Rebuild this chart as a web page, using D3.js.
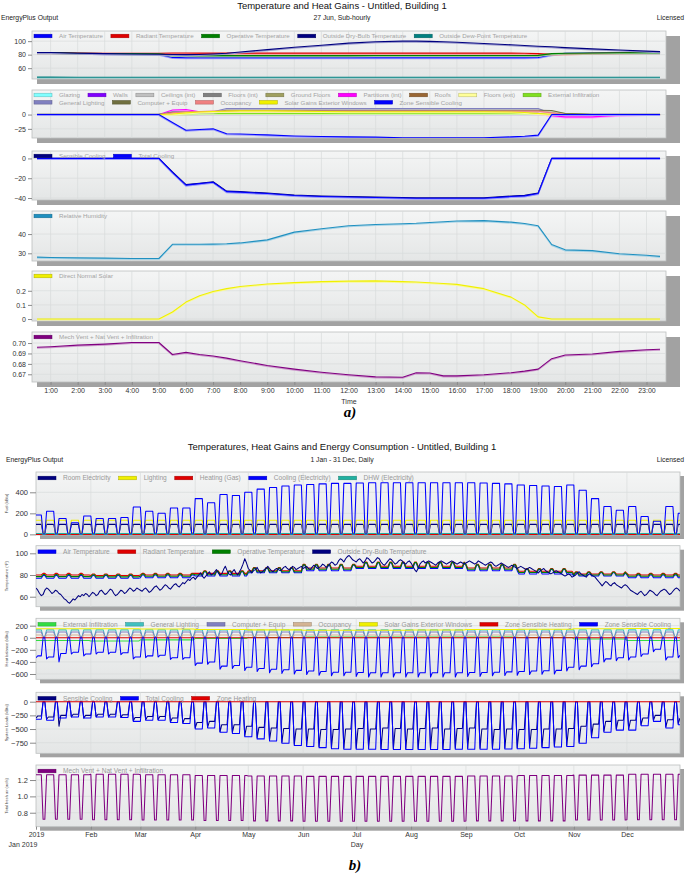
<!DOCTYPE html>
<html>
<head>
<meta charset="utf-8">
<title>EnergyPlus Output</title>
<script src="https://cdn.jsdelivr.net/npm/d3@7/dist/d3.min.js"></script>
<style>
  body { margin: 0; background: #fff; }
  svg text { font-family: "Liberation Sans", Arial, sans-serif; }
</style>
</head>
<body>
<div id="chart"></div>
<script>
// ---------- (a) 27 Jun, sub-hourly ----------
var hoursA = [0.5,1,2,3,4,5,5.5,6, 6.5,7,7.5,8,9,10,11,12, 13,14,14.5,15,15.5,16,17,18, 18.5,19,19.5,20,21,22,23,23.5];
var hourTicks = [1,2,3,4,5,6,7,8,9,10,11,12,13,14,15,16,17,18,19,20,21,22,23];

// temperatures (F)
var airTempA   = [83,83,82,81.5,81,80.5,76,75.5, 75.5,75.5,75.5,75.5,75.5,75.5,75.5,75.5, 75.5,75.5,75.5,75.5,75.5,75.5,75.5,75.5, 75.5,75.8,80,82,82.5,82.8,83,83];
var radiantA   = [83,83,82.5,82,82,82,82.5,82.5, 82.3,82.3,82.3,82.3,82.3,82.3,82.3,82.3, 82.3,82.3,82.3,82.3,82.3,82.3,82.3,82.3, 82.2,81.5,80.5,81,82,82.5,83,83];
var operativeA = [83,83,82,81.8,81.5,81.3,79,78.7, 78.6,78.6,78.6,78.6,78.6,78.6,78.6,78.6, 78.7,78.7,78.7,78.7,78.7,78.7,78.7,78.7, 78.8,79,81.5,82,82.5,82.8,83,83];
var outDryA    = [83.3,83.2,82,81.5,81,80.5,80.2,80, 80.3,81,82,84,87.5,91,94,97, 99,100,100,99.6,99.2,98.4,96.6,94.6, 93.6,92.4,91.6,90.4,88.6,86.9,85.3,84.5];
var outDewA    = [46.8,46.8,46.7,46.7,46.6,46.6,46.6,46.6, 46.6,46.6,46.6,46.6,46.6,46.6,46.6,46.6, 46.6,46.6,46.6,46.6,46.6,46.6,46.6,46.6, 46.6,46.6,46.6,46.6,46.6,46.6,46.6,46.6];

// heat gains (kBtu/h)
var glazingA    = [0,0,0,0,0,0,0.5,1, 1.5,2,2,2.5,2.5,2.5,2.5,2.5, 2.5,2.5,2.5,2.5,2.5,2.5,2.5,2.5, 2.5,2,1,0.3,0,0,0,0];
var wallsA      = [0.5,0.5,0.5,0.5,0.5,0.5,1,1.5, 1.5,1.5,1.5,1.5,1.5,1.5,1.5,1.5, 1.5,1.5,1.5,1.5,1.5,1.5,1.5,1.5, 1.5,1.5,0.5,0.5,0.5,0.5,0.5,0.5];
var ceilingsA   = [0,0,0,0,0,0,1,2, 2,2,2,2,2,2,2,2, 2,2,2,2,2,2,2,2, 2,2,1,0,0,0,0,0];
var floorsIntA  = [0,0,0,0,0,0,1,1.5, 1.5,1.5,1.5,1.5,1.5,1.5,1.5,1.5, 1.5,1.5,1.5,1.5,1.5,1.5,1.5,1.5, 1.5,1.5,0.5,0,0,0,0,0];
var groundA     = [0,0,0,0,0,0,2,3, 4,5,6,6,6,6,6,6, 6,6,6,6,6,6,6,6, 6,6,5,2,0,0,0,0];
var partitionsA = [0,0,0,0,0,0,8,9, 5,4,3,3,3,3,3,3, 3,3,3,3,3,3,3,3, 3,3,-2,-4,-4,-1,0,0];
var roofsA      = [0,0,0,0,0,0,1,1, 1.5,2,2.5,3,3.5,4,4,4, 4,4,4,4,4,4,4,4, 4,3.5,1,0.5,0,0,0,0];
var floorsExtA  = [0,0,0,0,0,0,1,2, 2.5,3,3,3,3,3,3,3, 3,3,3,3,3,3,3,3, 2.5,2,1,0,0,0,0,0];
var infilA      = [0.5,0.5,0.5,0.5,0.5,0.5,1,1.5, 2,2,2,2,2,2,2,2, 2,2,2,2,2,2,2,2, 2,2,1,0.5,0.5,0.5,0.5,0.5];
var lightingA   = [0,0,0,0,0,0,5,5, 5,5,10.5,10.5,10.5,10.5,10.5,10.5, 10.5,10.5,10.5,10.5,10.5,10.5,10.5,10.5, 10.5,10.5,2,0,0,0,0,0];
var equipA      = [0,0,0,0,0,0,4,4, 4,4,7.5,7.5,7.5,7.5,7.5,7.5, 7.5,7.5,7.5,7.5,7.5,7.5,7.5,7.5, 7.5,7.5,7,2,0,0,0,0];
var occupA      = [0,0,0,0,0,0,3,5, 5.5,6,6,6,6,6,6,6, 6,6,6,6,6,6,6,6, 6,6,3,0,0,0,0,0];
var solarA      = [0,0,0,0,0,0,1,3, 4.5,5.5,6,6.5,6.5,6,5.5,5, 5,5,5,5,5,5,5,4.5, 3.5,2,0.5,0,0,0,0,0];
var zoneCoolA   = [0,0,0,0,0,0,-14,-27.5, -26,-25,-33.5,-34,-35.5,-37.5,-38.5,-39, -39.5,-40.5,-40.5,-40.5,-40.5,-40.5,-40.5,-39, -38,-36,0,0,0,0,0,0];

// cooling, humidity, solar, ventilation
var sensCoolA  = [0,0,0,0,0,0,-13.5,-26.5, -25,-23.5,-33,-33.5,-35,-37,-38,-38.5, -39,-39.5,-39.8,-39.8,-39.8,-39.8,-39.8,-38, -37.3,-35,0,0,0,0,0,0];
var totalCoolA = [0,0,0,0,0,0,-14,-27, -25.5,-24,-33.5,-34,-35.5,-37.5,-38.5,-39, -39.5,-40,-40.2,-40.3,-40.3,-40.3,-40.3,-38.5, -37.8,-35.5,0,0,0,0,0,0];
var rhA   = [28,27.8,27.6,27.5,27.3,27.3,34.7,34.7, 34.7,34.8,35,35.4,37,41,42.8,44.3, 45,45.4,45.6,46,46.4,46.8,47,46.2, 45.5,44.3,34.6,31.8,31.4,29.8,29,28.4];
var dnsA  = [0,0,0,0,0,0,0.05,0.12, 0.165,0.195,0.215,0.23,0.248,0.258,0.265,0.268, 0.27,0.265,0.262,0.257,0.252,0.245,0.215,0.155, 0.1,0.015,0,0,0,0,0,0];
var ventA = [0.696,0.6965,0.698,0.699,0.7005,0.7005,0.689,0.691, 0.689,0.6875,0.6855,0.683,0.6785,0.675,0.672,0.6695, 0.6675,0.6672,0.6715,0.6712,0.6685,0.6685,0.6695,0.6715, 0.673,0.675,0.685,0.6885,0.6895,0.692,0.6935,0.694];

// ---------- (b) 1 Jan - 31 Dec, daily ----------
var monthTicks = ["2019","Feb","Mar","Apr","May","Jun","Jul","Aug","Sep","Oct","Nov","Dec"];

// weekday level for each Monday-based week (weekends are off)
var coolElecWk = [185,220,150,110,175,150,150,160,260,220, 200,250,250,340,300,380,370,400,430,445, 460,470,475,480,485,485,488,490,490,490, 490,490,490,490,490,490,488,485,480,470, 465,460,455,470,420,340,265,230,265,170, 125,265,200];
var zoneCoolWk = [-300,-320,-260,-240,-270,-240,-240,-250,-320,-300, -290,-330,-330,-420,-400,-470,-460,-490,-510,-520, -530,-540,-550,-560,-570,-570,-575,-580,-580,-580, -580,-580,-580,-580,-580,-575,-575,-570,-565,-560, -550,-545,-540,-490,-470,-430,-350,-330,-320,-270, -190,-320,-290];
var zoneCoolMon = [-330,-350,-400,-270,-300,-270,-270,-280,-350,-330, -320,-360,-360,-460,-440,-520,-510,-540,-560,-580, -590,-600,-610,-620,-630,-630,-640,-650,-650,-650, -650,-650,-650,-650,-650,-640,-640,-630,-625,-620, -610,-605,-600,-550,-530,-480,-400,-380,-370,-310, -230,-370,-330];
var totalCoolWk = [-320,-340,-300,-280,-300,-280,-280,-290,-360,-340, -340,-380,-400,-500,-480,-560,-580,-640,-680,-720, -760,-800,-820,-840,-860,-870,-870,-870,-875,-875, -875,-875,-875,-875,-870,-870,-870,-870,-865,-860, -850,-840,-830,-820,-760,-660,-560,-520,-520,-440, -360,-480,-420];
var sensCoolWk = [-260,-280,-250,-230,-250,-230,-230,-240,-290,-270, -270,-300,-310,-380,-360,-420,-420,-450,-470,-480, -490,-500,-500,-510,-510,-500,-490,-500,-480,-490, -500,-490,-480,-500,-490,-480,-500,-510,-500,-510, -510,-500,-500,-490,-450,-410,-360,-340,-340,-300, -250,-330,-300];
var sensCoolMon = [-300,-320,-450,-280,-300,-280,-280,-290,-350,-330, -330,-370,-390,-480,-470,-550,-560,-620,-660,-700, -740,-780,-800,-820,-840,-850,-850,-850,-860,-860, -860,-860,-860,-860,-850,-850,-850,-850,-845,-840, -830,-820,-810,-800,-740,-640,-540,-500,-500,-420, -340,-460,-400];

// [weekday, weekend]
var roomElecB = [95, 12];
var lightingB = [135, 15];
var heatingB  = [0, 0];
var dhwB      = [8, 1];
var genLightB = [130, 20];
var equipB    = [95, 15];
var occupB    = [45, 0];
var zoneHeatB = [0, 0];

// monthly levels
var airWkday = [77,77,77.5,79,82,84,86,86,84,81,79,77.5];
var airWkend = [79.5,79.5,80,83,86,89,91,91,89,85,82,80];
var radWkday = [80,79.5,80,81.5,84,86.5,88,88,86.5,83.5,81,80];
var radWkend = [81.5,81,81.5,84,87,90,92,92,90,86,83,81.5];
var opWkday  = [78.5,78.3,78.8,80.3,83,85.3,87,87,85.3,82.3,80,78.8];
var opWkend  = [80.5,80.3,80.8,83.5,86.5,89.5,91.5,91.5,89.5,85.5,82.5,80.8];
var infilB   = [-45,-55,-35,-10,5,10,12,12,10,5,-20,-45];
var solarB   = [150,150,145,138,130,125,125,128,135,142,148,152];
var ventWkday = [1.265,1.27,1.265,1.255,1.25,1.245,1.245,1.245,1.25,1.255,1.26,1.27];
var ventWkend = [0.72,0.715,0.71,0.705,0.70,0.695,0.695,0.695,0.70,0.70,0.71,0.715];

// outside dry-bulb, daily (F)
var outDryMonths = [
  [68,66,63,61,62,66,68,67,65,63, 64,66,65,63,62,60,58,57,55,54, 56,58,57,59,61,60,62,61,63,62, 60],
  [62,64,63,61,62,65,66,64,62,63, 65,67,66,63,61,62,64,66,65,63, 64,66,68,67,65,66,68,67],
  [66,65,67,68,66,64,65,67,69,70, 68,66,67,69,71,70,68,67,69,71, 72,70,69,71,73,72,74,76,75,77, 78],
  [76,78,80,82,79,77,79,81,83,80, 81,83,85,82,80,81,85,88,84,81, 80,83,85,82,80,83,86,90,95,91],
  [86,84,82,84,85,87,84,82,83,85, 86,88,86,84,83,85,86,85,84,85, 87,88,86,85,86,88,87,85,86,87, 88],
  [86,87,88,86,85,87,89,88,86,87, 88,90,89,87,88,90,92,91,89,90, 93,95,94,92,95,97,98,96,94,93],
  [92,94,95,93,91,93,96,95,93,91, 92,94,96,95,92,90,89,91,93,95, 94,92,90,91,93,94,93,91,90,92, 93],
  [91,88,85,83,86,90,92,93,91,92, 93,92,91,90,89,91,92,93,92,91, 90,91,92,93,92,91,90,91,92,91, 90],
  [91,92,93,92,91,90,91,93,92,91, 90,89,90,91,92,91,89,88,89,90, 91,90,89,88,87,88,89,88,87,86],
  [87,88,87,86,85,86,87,86,85,84, 83,82,84,85,86,84,83,82,81,82, 83,84,83,82,81,80,79,80,81,80, 78],
  [79,80,82,83,81,80,79,78,80,81, 80,79,78,76,74,72,70,72,74,73, 71,70,72,73,71,70,69,68,70,71],
  [70,68,66,65,64,63,62,64,65,63, 61,62,64,66,65,64,62,61,63,65, 66,67,66,64,62,63,65,67,68,67, 65]
];

// ---------- build daily series ----------
var days = d3.timeDay.range(new Date(2019, 0, 1), new Date(2020, 0, 1));
var work = days.map(function(d) { return d.getDay() >= 1 && d.getDay() <= 5; });
var firstWork = work.map(function(w, i) { return w && (i === 0 || !work[i - 1]); });
var weekIdx = days.map(function(d) { return d3.timeMonday.count(new Date(2018, 11, 31), d); });
var monthIdx = days.map(function(d) { return d.getMonth(); });
function byWeek(arr, mon) {
  return days.map(function(d, i) {
    if (!work[i]) return 0;
    return (mon && firstWork[i]) ? mon[weekIdx[i]] : arr[weekIdx[i]];
  });
}
function byMonth(a, b) { return days.map(function(d, i) { return (work[i] ? a : b)[monthIdx[i]]; }); }
function byMonthAll(a) { return days.map(function(d, i) { return a[monthIdx[i]]; }); }
function byDay(pair) { return days.map(function(d, i) { return work[i] ? pair[0] : pair[1]; }); }
var outDryB = [].concat.apply([], outDryMonths);

// ---------- svg ----------
var W = 685, H = 875;
var svg = d3.select("#chart").append("svg").attr("width", W).attr("height", H);
var defs = svg.append("defs");
var grad = defs.append("linearGradient").attr("id", "panelBg")
  .attr("x1", 0).attr("y1", 0).attr("x2", 0).attr("y2", 1);
grad.append("stop").attr("offset", "0%").attr("stop-color", "#f4f5f5");
grad.append("stop").attr("offset", "100%").attr("stop-color", "#e4e6e6");
var clipCount = 0;

function drawPanel(p) {
  var w = p.right - p.left, h = p.bottom - p.top;
  var y = d3.scaleLinear().domain(p.yDomain).range([p.bottom, p.top]);
  var g = svg.append("g");
  g.append("rect").attr("x", p.left + p.sh).attr("y", p.top + p.sh)
    .attr("width", w + p.shR).attr("height", h).attr("fill", "#a2a2a2");
  g.append("rect").attr("x", p.left).attr("y", p.top).attr("width", w).attr("height", h)
    .attr("fill", "url(#panelBg)").attr("stroke", "#bcbfbf").attr("stroke-width", 0.8);
  g.selectAll(".gx").data(p.xGrid).enter().append("line")
    .attr("x1", function(d) { return p.x(d); }).attr("x2", function(d) { return p.x(d); })
    .attr("y1", p.top).attr("y2", p.bottom)
    .attr("stroke", "#d8dbdb").attr("stroke-width", 0.7);
  g.selectAll(".gy").data(p.yTicks).enter().append("line")
    .attr("x1", p.left).attr("x2", p.right)
    .attr("y1", function(d) { return y(d); }).attr("y2", function(d) { return y(d); })
    .attr("stroke", "#d8dbdb").attr("stroke-width", 0.7);

  var ax = g.append("g").attr("transform", "translate(" + p.left + ",0)")
    .call(d3.axisLeft(y).tickValues(p.yTicks).tickFormat(p.fmt).tickSize(p.tickLen).tickPadding(2));
  ax.select(".domain").remove();
  ax.attr("font-size", p.tickFont).attr("font-family", null);
  ax.selectAll("line").attr("stroke", "#8a8a8a");
  ax.selectAll("text").attr("fill", "#333");

  var id = "clip" + (clipCount++);
  defs.append("clipPath").attr("id", id).append("rect")
    .attr("x", p.left).attr("y", p.top).attr("width", w).attr("height", h);
  var lg = g.append("g").attr("clip-path", "url(#" + id + ")");
  p.series.forEach(function(s) {
    var line = d3.line()
      .x(function(d, i) { return p.x(p.xs[i]); })
      .y(function(d) { return y(d); });
    if (p.halo) {
      lg.append("path").attr("d", line(s.values)).attr("fill", "none")
        .attr("stroke", d3.interpolateRgb(s.color, "#ffffff")(0.6)).attr("stroke-width", 1.3)
        .attr("transform", "translate(0,0.9)");
    }
    lg.append("path").attr("d", line(s.values)).attr("fill", "none")
      .attr("stroke", s.color).attr("stroke-width", p.lineW).attr("stroke-linejoin", "round");
  });

  var rows = p.legendRows || [p.series];
  rows.forEach(function(row, r) {
    var lx = p.left + 2;
    var ly = p.top + p.legY + r * p.legRowH;
    row.forEach(function(s) {
      g.append("rect").attr("x", lx).attr("y", ly - 1.8).attr("width", 18).attr("height", 3.6)
        .attr("fill", s.color).attr("stroke", d3.color(s.color).darker(0.9)).attr("stroke-width", 0.5);
      var t = g.append("text").attr("x", lx + 25).attr("y", ly + p.legFont * 0.36)
        .attr("font-size", p.legFont).attr("fill", p.legColor).text(s.name);
      lx += 25 + t.node().getComputedTextLength() + 8;
    });
  });

  if (p.yTitle) {
    g.append("text").attr("transform", "translate(8," + ((p.top + p.bottom) / 2) + ") rotate(-90)")
      .attr("text-anchor", "middle").attr("font-size", 4).attr("fill", "#444").text(p.yTitle);
  }
  return y;
}

function header(y1, y2, title, sub, leftX) {
  svg.append("text").attr("x", 342).attr("y", y1).attr("text-anchor", "middle")
    .attr("font-size", 9.5).attr("fill", "#111").text(title);
  svg.append("text").attr("x", leftX).attr("y", y2).attr("font-size", 6.8).attr("fill", "#222").text("EnergyPlus Output");
  svg.append("text").attr("x", 342).attr("y", y2).attr("text-anchor", "middle")
    .attr("font-size", 6.8).attr("fill", "#222").text(sub);
  svg.append("text").attr("x", 684).attr("y", y2).attr("text-anchor", "end")
    .attr("font-size", 6.8).attr("fill", "#222").text("Licensed");
}

// ================= part (a) =================
header(9, 19.5, "Temperature and Heat Gains - Untitled, Building 1", "27 Jun, Sub-hourly", 1);

var xa = d3.scaleLinear().domain([0.315, 23.72]).range([32, 666]);
var baseA = { x: xa, xs: hoursA, xGrid: hourTicks, left: 32, right: 666, sh: 5, shR: 9,
  tickLen: 4, tickFont: 7, legFont: 6.2, legColor: "#a3a3a3", legY: 5, legRowH: 7.3,
  lineW: 1.1, halo: true };
function pa(extra) { return Object.assign({}, baseA, extra); }

drawPanel(pa({ top: 31, bottom: 79, yDomain: [44, 115], yTicks: [60, 80, 100], fmt: d3.format("d"),
  series: [
    { name: "Air Temperature", color: "#0000ff", values: airTempA },
    { name: "Radiant Temperature", color: "#e00000", values: radiantA },
    { name: "Operative Temperature", color: "#008000", values: operativeA },
    { name: "Outside Dry-Bulb Temperature", color: "#000080", values: outDryA },
    { name: "Outside Dew-Point Temperature", color: "#008080", values: outDewA }
  ] }));

var gainsA = [
  { name: "Glazing", color: "#80ffff", values: glazingA },
  { name: "Walls", color: "#8000ff", values: wallsA },
  { name: "Ceilings (int)", color: "#c0c0c0", values: ceilingsA },
  { name: "Floors (int)", color: "#808080", values: floorsIntA },
  { name: "Ground Floors", color: "#a0a060", values: groundA },
  { name: "Partitions (int)", color: "#ff00ff", values: partitionsA },
  { name: "Roofs", color: "#996633", values: roofsA },
  { name: "Floors (ext)", color: "#ffff99", values: floorsExtA },
  { name: "External Infiltration", color: "#80e020", values: infilA },
  { name: "General Lighting", color: "#8080c0", values: lightingA },
  { name: "Computer + Equip", color: "#707040", values: equipA },
  { name: "Occupancy", color: "#f08080", values: occupA },
  { name: "Solar Gains Exterior Windows", color: "#f0f000", values: solarA },
  { name: "Zone Sensible Cooling", color: "#0000ff", values: zoneCoolA }
];
drawPanel(pa({ top: 90, bottom: 138, yDomain: [-41, 43], yTicks: [-25, 0], fmt: d3.format("d"),
  series: gainsA, legendRows: [gainsA.slice(0, 9), gainsA.slice(9)] }));

drawPanel(pa({ top: 151, bottom: 200, yDomain: [-42, 7.5], yTicks: [-40, -20, 0], fmt: d3.format("d"),
  series: [
    { name: "Sensible Cooling", color: "#000080", values: sensCoolA },
    { name: "Total Cooling", color: "#0000ff", values: totalCoolA }
  ] }));

drawPanel(pa({ top: 211, bottom: 261, yDomain: [26, 52], yTicks: [30, 40], fmt: d3.format("d"),
  series: [{ name: "Relative Humidity", color: "#2090c0", values: rhA }] }));

drawPanel(pa({ top: 271, bottom: 321, yDomain: [-0.014, 0.34], yTicks: [0, 0.1, 0.2],
  fmt: function(d) { return d === 0 ? "0" : d3.format(".1f")(d); },
  series: [{ name: "Direct Normal Solar", color: "#f0f000", values: dnsA }] }));

drawPanel(pa({ top: 332, bottom: 382, yDomain: [0.6626, 0.7106], yTicks: [0.67, 0.68, 0.69, 0.70],
  fmt: d3.format(".2f"),
  series: [{ name: "Mech Vent + Nat Vent + Infiltration", color: "#800080", values: ventA }] }));

var axA = svg.append("g").attr("transform", "translate(0,382)")
  .call(d3.axisBottom(xa).tickValues(hourTicks).tickFormat(function(h) { return h + ":00"; })
    .tickSize(3).tickPadding(3));
axA.select(".domain").remove();
axA.attr("font-size", 7).attr("font-family", null);
axA.selectAll("line").attr("stroke", "#8a8a8a");
axA.selectAll("text").attr("fill", "#333");
svg.append("text").attr("x", 349).attr("y", 403.5).attr("text-anchor", "middle")
  .attr("font-size", 7).attr("fill", "#333").text("Time");
svg.append("text").attr("x", 350).attr("y", 417).attr("text-anchor", "middle")
  .attr("font-size", 15).attr("font-weight", "bold").attr("font-style", "italic")
  .style("font-family", "'Liberation Serif', 'Times New Roman', serif").text("a)");

// ================= part (b) =================
header(449.5, 461.5, "Temperatures, Heat Gains and Energy Consumption - Untitled, Building 1", "1 Jan - 31 Dec, Daily", 6);

var xb = d3.scaleTime().domain([new Date(2019, 0, 1), new Date(2019, 11, 31)]).range([36, 680]);
var monthStarts = d3.timeMonth.range(new Date(2019, 0, 1), new Date(2019, 11, 2));
var baseB = { x: xb, xs: days, xGrid: monthStarts.slice(1), left: 36, right: 680, sh: 4, shR: 0,
  tickLen: 6, tickFont: 7.5, legFont: 6.6, legColor: "#999999", legY: 6, legRowH: 8,
  lineW: 1.05, halo: false };
function pb(extra) { return Object.assign({}, baseB, extra); }

drawPanel(pb({ top: 472, bottom: 535, yDomain: [-6, 593], yTicks: [0, 200, 400], fmt: d3.format("d"),
  yTitle: "Fuel (kBtu)",
  series: [
    { name: "Room Electricity", color: "#000080", values: byDay(roomElecB) },
    { name: "Lighting", color: "#f0f000", values: byDay(lightingB) },
    { name: "Heating (Gas)", color: "#e00000", values: byDay(heatingB) },
    { name: "Cooling (Electricity)", color: "#0000ff", values: byWeek(coolElecWk) },
    { name: "DHW (Electricity)", color: "#20b0a0", values: byDay(dhwB) }
  ] }));

drawPanel(pb({ top: 545.7, bottom: 606.7, yDomain: [50.8, 107], yTicks: [60, 80, 100], fmt: d3.format("d"),
  yTitle: "Temperature (\u00b0F)",
  series: [
    { name: "Air Temperature", color: "#0000ff", values: byMonth(airWkday, airWkend) },
    { name: "Radiant Temperature", color: "#e00000", values: byMonth(radWkday, radWkend) },
    { name: "Operative Temperature", color: "#008000", values: byMonth(opWkday, opWkend) },
    { name: "Outside Dry-Bulb Temperature", color: "#000080", values: outDryB }
  ] }));

drawPanel(pb({ top: 618.3, bottom: 679.3, yDomain: [-688, 322], yTicks: [-600, -400, -200, 0, 200],
  fmt: d3.format("d"), yTitle: "Heat balance (kBtu)",
  series: [
    { name: "External Infiltration", color: "#33dd44", values: byMonthAll(infilB) },
    { name: "General Lighting", color: "#40c0c0", values: byDay(genLightB) },
    { name: "Computer + Equip", color: "#8080c0", values: byDay(equipB) },
    { name: "Occupancy", color: "#d4b494", values: byDay(occupB) },
    { name: "Solar Gains Exterior Windows", color: "#f0f000", values: byMonthAll(solarB) },
    { name: "Zone Sensible Heating", color: "#e00000", values: byDay(zoneHeatB) },
    { name: "Zone Sensible Cooling", color: "#0000ff", values: byWeek(zoneCoolWk, zoneCoolMon) }
  ] }));

drawPanel(pb({ top: 692.3, bottom: 753.3, yDomain: [-944, 172], yTicks: [-750, -500, -250, 0],
  fmt: d3.format("d"), yTitle: "System Loads (kBtu)",
  series: [
    { name: "Sensible Cooling", color: "#000080", values: byWeek(sensCoolWk, sensCoolMon) },
    { name: "Total Cooling", color: "#0000ff", values: byWeek(totalCoolWk) },
    { name: "Zone Heating", color: "#e00000", values: byDay(zoneHeatB) }
  ] }));

drawPanel(pb({ top: 765, bottom: 826.7, yDomain: [0.629, 1.384], yTicks: [0.8, 1.0, 1.2],
  fmt: d3.format(".1f"), yTitle: "Total fresh air (ac/h)",
  series: [{ name: "Mech Vent + Nat Vent + Infiltration", color: "#800080", values: byMonth(ventWkday, ventWkend) }] }));

var axB = svg.append("g").attr("transform", "translate(0,826.7)")
  .call(d3.axisBottom(xb).tickValues(monthStarts)
    .tickFormat(function(d, i) { return monthTicks[i]; }).tickSize(3).tickPadding(2));
axB.select(".domain").remove();
axB.attr("font-size", 7).attr("font-family", null);
axB.selectAll("line").attr("stroke", "#8a8a8a");
axB.selectAll("text").attr("fill", "#333");
svg.append("text").attr("x", 23).attr("y", 847).attr("text-anchor", "middle")
  .attr("font-size", 7).attr("fill", "#333").text("Jan 2019");
svg.append("text").attr("x", 357).attr("y", 847).attr("text-anchor", "middle")
  .attr("font-size", 7).attr("fill", "#333").text("Day");
svg.append("text").attr("x", 355).attr("y", 870).attr("text-anchor", "middle")
  .attr("font-size", 15).attr("font-weight", "bold").attr("font-style", "italic")
  .style("font-family", "'Liberation Serif', 'Times New Roman', serif").text("b)");
</script>
</body>
</html>
